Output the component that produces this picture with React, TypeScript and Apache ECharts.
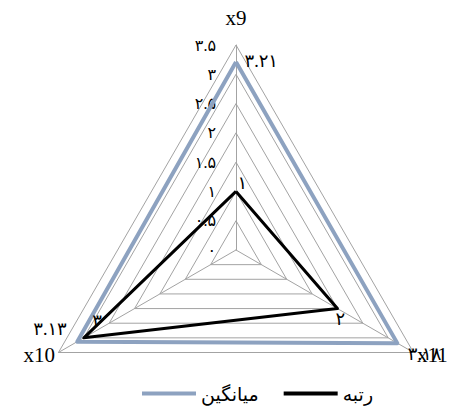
import React, { useEffect, useRef } from "react";
import * as echarts from "echarts";

const indicatorNames = ["x9", "x10", "x11"];
const axisMax = 3.5;
const splitCount = 7;
const seriesNames = ["میانگین", "رتبه"];
const avgValues = [3.21, 3.13, 3.18];
const rankValues = [1, 3, 2];

const BLUE = "#8da2c0";
const BLACK = "#000000";
const GRID = "#a3a3a3";
const FONT = "'Liberation Serif', 'DejaVu Sans', serif";

const fa = (v: number | string) =>
  String(v).replace(/\d/g, (d) => "۰۱۲۳۴۵۶۷۸۹"[Number(d)]);

// label placement per vertex (style only)
const avgLabelPos: any[] = [
  { position: "right", distance: 8, offset: [0, -1] },
  { position: "left", distance: 10, offset: [0, -13] },
  { position: "right", distance: 10, offset: [0, 11] },
];
const rankLabelPos: any[] = [
  { position: "right", distance: 1, offset: [0, -8] },
  { position: "right", distance: 8, offset: [0, -17] },
  { position: "bottom", distance: 1, offset: [3, 0] },
];

function labelItems(name: string, values: number[], pos: any[]) {
  return values.map((v, i) => ({
    name: name + "_lbl" + i,
    value: values,
    symbol: "circle",
    symbolSize: 1,
    itemStyle: { color: "transparent" },
    lineStyle: { opacity: 0, width: 0 },
    label: {
      show: true,
      ...pos[i],
      color: "#000",
      fontSize: 18,
      fontFamily: FONT,
      formatter: (p: any) => (p.value === v ? fa(v) : ""),
    },
  }));
}

export default function App() {
  const ref = useRef<HTMLDivElement>(null);
  useEffect(() => {
    if (!ref.current) return;
    const chart = echarts.init(ref.current, null, { renderer: "svg" });
    chart.setOption({
      animation: false,
      backgroundColor: "#ffffff",
      legend: {
        data: seriesNames,
        bottom: 9,
        left: 137,
        icon: "rect",
        itemWidth: 54,
        itemHeight: 4,
        itemGap: 25,
        textStyle: { fontSize: 19, color: "#000", fontFamily: "'DejaVu Sans', sans-serif" },
      },
      radar: {
        center: [236, 250],
        radius: 205,
        startAngle: 90,
        shape: "polygon",
        splitNumber: splitCount,
        axisName: {
          color: "#000",
          fontSize: 21,
          fontFamily: FONT,
          formatter: (name: string) =>
            name === indicatorNames[0] ? "{t|" + name + "}" : name,
          rich: {
            t: {
              fontSize: 21,
              fontFamily: FONT,
              color: "#000",
              padding: [0, 0, 13, 0],
            },
          },
        },
        nameGap: 4,
        axisLine: { lineStyle: { color: GRID, width: 1 } },
        splitLine: { lineStyle: { color: GRID, width: 1 } },
        splitArea: { show: false },
        axisTick: { show: false },
        axisLabel: { show: false },
        indicator: indicatorNames.map((n, i) => ({
          name: n,
          min: 0,
          max: axisMax,
          ...(i === 0
            ? {
                axisLabel: {
                  show: true,
                  margin: 20,
                  color: "#000",
                  fontSize: 16,
                  fontFamily: FONT,
                  formatter: (v: number) => fa(v),
                },
              }
            : {}),
        })),
      },
      series: [
        {
          type: "radar",
          symbol: "none",
          data: [
            {
              name: seriesNames[0],
              value: avgValues,
              lineStyle: { color: BLUE, width: 4 },
              itemStyle: { color: BLUE },
            },
            {
              name: seriesNames[1],
              value: rankValues,
              lineStyle: { color: BLACK, width: 3 },
              itemStyle: { color: BLACK },
            },
          ],
        },
        {
          type: "radar",
          silent: true,
          data: [
            ...labelItems("a", avgValues, avgLabelPos),
            ...labelItems("r", rankValues, rankLabelPos),
          ],
        },
      ],
    });
    return () => chart.dispose();
  }, []);
  return (
    <div
      ref={ref}
      style={{ position: "fixed", left: 0, top: 0, width: 459, height: 417 }}
    />
  );
}
